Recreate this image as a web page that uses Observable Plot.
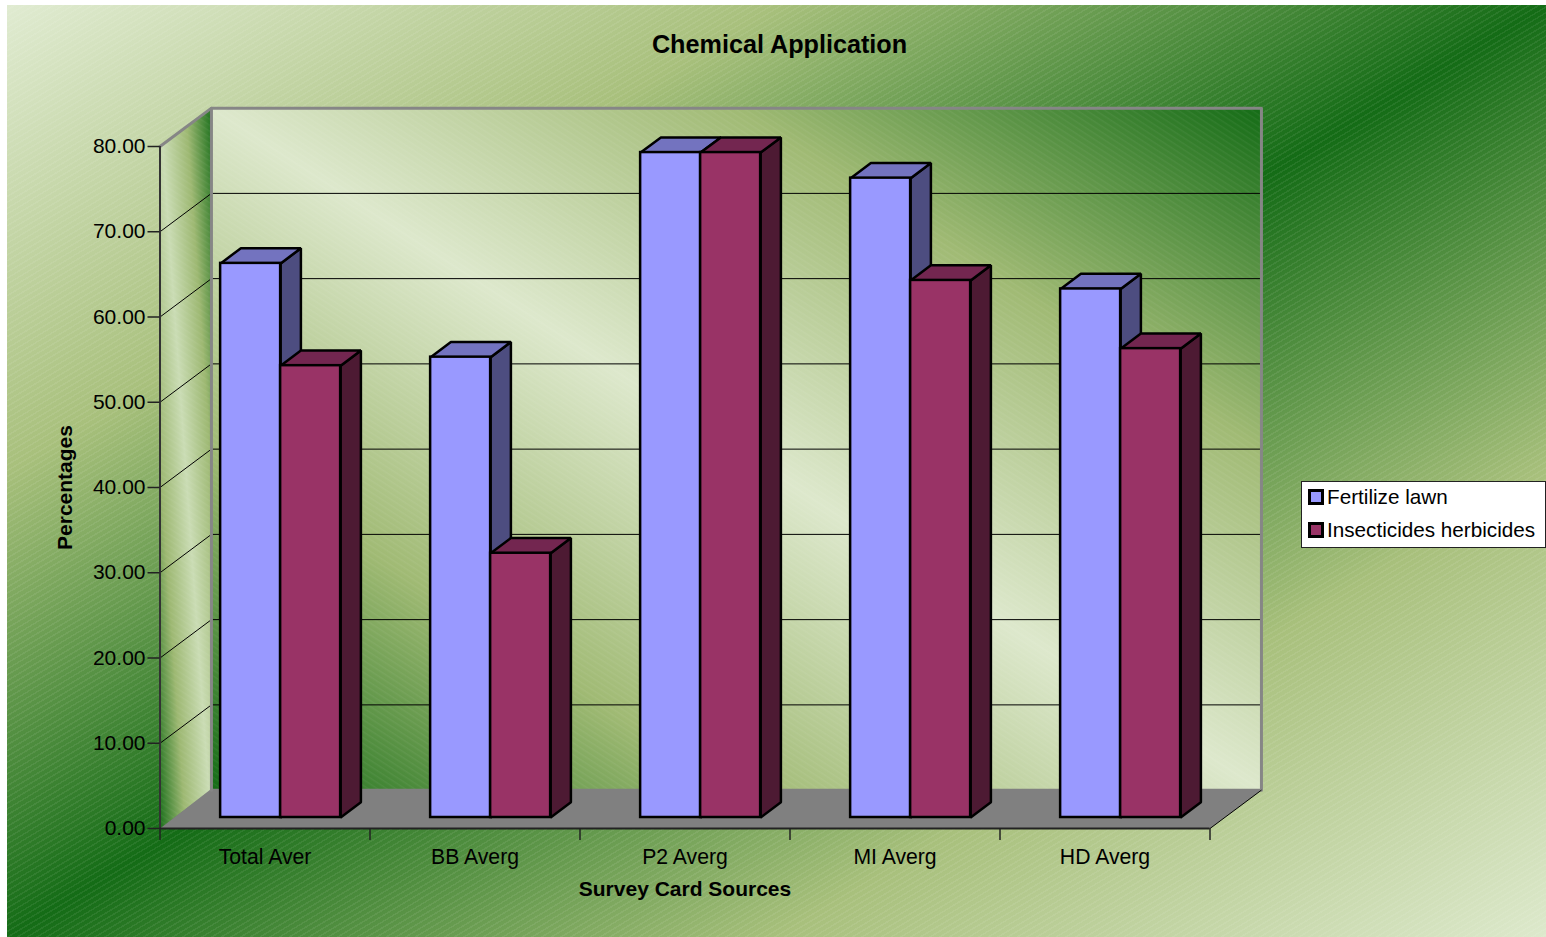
<!DOCTYPE html>
<html>
<head>
<meta charset="utf-8">
<title>Chemical Application</title>
<script src="https://cdn.jsdelivr.net/npm/d3@7"></script>
<script src="https://cdn.jsdelivr.net/npm/@observablehq/plot@0.6"></script>
<style>
  html, body { margin: 0; padding: 0; background: #fff; }
  #stage { position: relative; width: 1546px; height: 937px; overflow: hidden; font-family: "Liberation Sans", Arial, sans-serif; }
  #backdrop {
    position: absolute; left: 7px; top: 5px; width: 1539px; height: 932px;
    background:
      repeating-linear-gradient(149deg, rgba(255,255,255,0) 0 3.5px, rgba(255,255,255,.07) 3.5px 5px),
      linear-gradient(to bottom right, #e0ebd1 0%, #a8c07c 25%, #146c16 50%, #a8c07c 75%, #dde9cc 100%);
  }
  #chart { position: absolute; left: 0; top: 0; }
  #chart svg { background: transparent; display: block; }
  #legend {
    position: absolute; left: 1301px; top: 481px; width: 243px; height: 65px; box-sizing: content-box;
    background: #fff; border: 1px solid #222; font-size: 20.7px; color: #000;
  }
  #legend .row { position: absolute; left: 6px; height: 24px; display: flex; align-items: center; white-space: nowrap; }
  #legend .swatch { width: 10px; height: 10px; border: 3px solid #000; margin-right: 3px; flex: none; }
</style>
</head>
<body>
<div id="stage">
  <div id="backdrop"></div>
  <div id="chart"></div>
  <div id="legend"></div>
</div>
<script>
// Survey percentages per source
const categories = ["Total Aver", "BB Averg", "P2 Averg", "MI Averg", "HD Averg"];
const fertilizeLawn = [65, 54, 78, 75, 62];
const insecticidesHerbicides = [53, 31, 78, 63, 55];
const valueTicks = [0, 10, 20, 30, 40, 50, 60, 70, 80];
const seriesNames = ["Fertilize lawn", "Insecticides herbicides"];

// Excel-style face colours: front, side, top
const blueFaces = {front: "#9999ff", side: "#4d4d80", top: "#7373bf"};
const redFaces = {front: "#993366", side: "#4d1a33", top: "#732650"};

// Oblique projection, in axis units: the chart box depth and each bar's depth
const boxDepth = {x: 0.245, y: 4.5};
const floorBack = 4.65;
const barDepth = {x: 0.0965, y: 1.78};
const barLift = 1.29;
const barWidth = 2 / 7;
const barShift = 0.003;
const catCount = categories.length;
const maxValue = valueTicks[valueTicks.length - 1];

const poly = (...pairs) => pairs.map(([x, y]) => ({x, y}));

const backWall = poly(
  [boxDepth.x, boxDepth.y], [boxDepth.x + catCount, boxDepth.y],
  [boxDepth.x + catCount, boxDepth.y + maxValue], [boxDepth.x, boxDepth.y + maxValue]
);
const sideWall = poly(
  [0, 0], [boxDepth.x, boxDepth.y], [boxDepth.x, boxDepth.y + maxValue], [0, maxValue]
);
const floorFace = poly(
  [0, 0], [catCount, 0], [catCount + boxDepth.x, boxDepth.y], [catCount + boxDepth.x, floorBack], [boxDepth.x, floorBack]
);
const wallEdge = poly(
  [0, maxValue], [boxDepth.x, boxDepth.y + maxValue], [boxDepth.x + catCount, boxDepth.y + maxValue],
  [boxDepth.x + catCount, boxDepth.y]
);
const innerEdge = poly([boxDepth.x, boxDepth.y + maxValue], [boxDepth.x, boxDepth.y]);

// Left edge of a bar within its category slot
const barLeft = (i, offset) => i + barWidth * (1 + offset) + barShift;

// Side and top faces of one series of bars, as closed polygons
function barShells(values, offset, faces) {
  return values.flatMap((v, i) => {
    const x0 = barLeft(i, offset);
    const x1 = x0 + barWidth;
    const y0 = barLift;
    const y1 = v + barLift;
    const d = barDepth;
    return [
      ...poly([x1, y0], [x1 + d.x, y0 + d.y], [x1 + d.x, y1 + d.y], [x1, y1])
        .map((p) => ({...p, id: `side-${i}`, fill: faces.side})),
      ...poly([x0, y1], [x1, y1], [x1 + d.x, y1 + d.y], [x0 + d.x, y1 + d.y])
        .map((p) => ({...p, id: `top-${i}`, fill: faces.top}))
    ];
  });
}

function barFronts(values, offset, faces) {
  return Plot.rect(values, {
    x1: (v, i) => barLeft(i, offset),
    x2: (v, i) => barLeft(i, offset) + barWidth,
    y1: () => barLift,
    y2: (v) => v + barLift,
    fill: faces.front,
    stroke: "#000",
    strokeWidth: 2.5
  });
}

const shellOptions = {
  x: "x", y: "y", z: "id", fill: "fill", curve: "linear-closed",
  stroke: "#000", strokeWidth: 2.5, strokeLinejoin: "miter"
};

// Gradients and stripe pattern shared by the chart box walls
function wallDefs() {
  const defs = document.createElementNS("http://www.w3.org/2000/svg", "defs");
  defs.innerHTML = `
    <linearGradient id="wallFill" x1="1" y1="0" x2="0" y2="1">
      <stop offset="0" stop-color="#146c16"/>
      <stop offset="0.25" stop-color="#a0ba74"/>
      <stop offset="0.5" stop-color="#dde8cc"/>
      <stop offset="0.75" stop-color="#a0ba74"/>
      <stop offset="1" stop-color="#146c16"/>
    </linearGradient>
    <linearGradient id="sideFill" x1="1" y1="0" x2="0" y2="1">
      <stop offset="0" stop-color="#1c701c"/>
      <stop offset="0.25" stop-color="#9db872"/>
      <stop offset="0.5" stop-color="#cadcb4"/>
      <stop offset="0.75" stop-color="#9db872"/>
      <stop offset="1" stop-color="#1c701c"/>
    </linearGradient>
    <pattern id="wallStripes" width="5" height="5" patternUnits="userSpaceOnUse" patternTransform="rotate(33)">
      <rect width="5" height="1.4" fill="#fff" fill-opacity="0.05"/>
    </pattern>`;
  return defs;
}

const chartNode = Plot.plot({
  width: 1546,
  height: 937,
  marginLeft: 159.5,
  marginRight: 336.5,
  marginTop: 146,
  marginBottom: 109,
  x: {domain: [0, catCount]},
  y: {domain: [0, maxValue]},
  color: {type: "identity"},
  style: {fontFamily: "Liberation Sans, Arial, sans-serif", fontSize: "21px", color: "#000", background: "transparent", overflow: "visible"},
  marks: [
    wallDefs,
    Plot.line(sideWall, {x: "x", y: "y", fill: "url(#sideFill)", curve: "linear-closed", stroke: "none"}),
    Plot.line(backWall, {x: "x", y: "y", fill: "url(#wallFill)", curve: "linear-closed", stroke: "none"}),
    Plot.line(backWall, {x: "x", y: "y", fill: "url(#wallStripes)", curve: "linear-closed", stroke: "none"}),
    Plot.line(sideWall, {x: "x", y: "y", fill: "url(#wallStripes)", curve: "linear-closed", stroke: "none"}),

    // Gridlines run across the side wall and then the back wall
    Plot.link(valueTicks.slice(1, -1), {
      x1: 0, y1: (v) => v, x2: boxDepth.x, y2: (v) => v + boxDepth.y,
      stroke: "#000", strokeWidth: 1
    }),
    Plot.link(valueTicks.slice(1, -1), {
      x1: boxDepth.x, y1: (v) => v + boxDepth.y, x2: boxDepth.x + catCount, y2: (v) => v + boxDepth.y,
      stroke: "#000", strokeWidth: 1
    }),

    Plot.line(floorFace, {x: "x", y: "y", fill: "#808080", curve: "linear-closed", stroke: "none"}),
    Plot.line(wallEdge, {x: "x", y: "y", stroke: "#868686", strokeWidth: 3}),
    Plot.line(innerEdge, {x: "x", y: "y", stroke: "#868686", strokeWidth: 3}),
    Plot.link([0], {
      x1: catCount, y1: 0, x2: catCount + boxDepth.x, y2: boxDepth.y,
      stroke: "#000", strokeWidth: 1
    }),

    // Axes
    Plot.ruleX([0], {y1: 0, y2: maxValue, stroke: "#333", strokeWidth: 2}),
    Plot.ruleY([0], {x1: 0, x2: catCount, stroke: "#222", strokeWidth: 2}),
    Plot.axisY({ticks: valueTicks, tickFormat: ".2f", tickSize: 12, tickPadding: 2.5, label: null, stroke: "#222", strokeWidth: 1.5}),
    Plot.axisX({ticks: d3.range(catCount + 1), tickFormat: () => "", tickSize: 12, label: null, stroke: "#222", strokeWidth: 1.5}),
    Plot.axisX({
      ticks: categories.map((c, i) => i + 0.5),
      tickFormat: (v) => categories[v - 0.5],
      tickSize: 0, tickPadding: 20, fontSize: 21.2, label: null
    }),

    // Fertilizer bars first so the insecticide bars sit in front of their side faces
    Plot.line(barShells(fertilizeLawn, 0, blueFaces), shellOptions),
    barFronts(fertilizeLawn, 0, blueFaces),
    Plot.line(barShells(insecticidesHerbicides, 1, redFaces), shellOptions),
    barFronts(insecticidesHerbicides, 1, redFaces),

    // Chart and axis titles
    Plot.text(["Chemical Application"], {x: 2.95, y: 91.97, fontWeight: "bold", fontSize: 25.2, fill: "#000"}),
    Plot.text(["Survey Card Sources"], {x: 2.5, y: -7.08, fontWeight: "bold", fontSize: 21, fill: "#000"}),
    Plot.text(["Percentages"], {x: -0.45, y: 40, rotate: -90, fontWeight: "bold", fontSize: 21, fill: "#000"})
  ]
});
document.getElementById("chart").append(chartNode);

// Legend box to the right of the chart
const legendBox = document.getElementById("legend");
seriesNames.forEach((name, i) => {
  const row = document.createElement("div");
  row.className = "row";
  row.style.top = `${3 + i * 33}px`;
  const swatch = document.createElement("span");
  swatch.className = "swatch";
  swatch.style.background = [blueFaces, redFaces][i].front;
  row.append(swatch, name);
  legendBox.append(row);
});
</script>
</body>
</html>
